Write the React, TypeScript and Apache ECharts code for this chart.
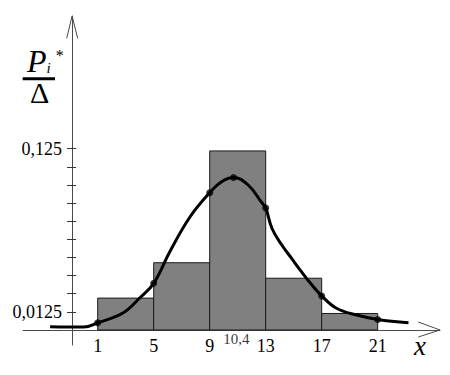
import React, { useEffect, useRef } from "react";
import * as echarts from "echarts";

// Histogram bins (interval edges) and heights P_i*/Δ
const binEdges = [1, 5, 9, 13, 17, 21];
const binHeights = [0.022, 0.0464, 0.1235, 0.0357, 0.0114];

// Smooth density curve
const curveX = [-2.4, 0, 1, 2.8, 4, 5, 6.15, 7.6, 9, 9.85, 10.7, 11.75, 12.7, 13, 13.45, 14.15, 14.85, 15.55, 16.3, 17, 18.05, 19.5, 21, 23.2];
const curveY = [0.0023, 0.0021, 0.005, 0.0117, 0.0221, 0.0322, 0.054, 0.0781, 0.0947, 0.1023, 0.1052, 0.1, 0.0881, 0.0842, 0.07, 0.0586, 0.0494, 0.0402, 0.031, 0.0235, 0.015, 0.0103, 0.0072, 0.005];

// Marked points on the curve
const dotX = [1, 5, 9, 10.7, 13, 17, 21];
const dotY = [0.005, 0.0322, 0.0947, 0.1052, 0.0842, 0.0235, 0.0072];

// Axis ticks / labels
const xTickLabels = [1, 5, 9, 13, 17, 21];
const yTicks = [0.0125, 0.025, 0.0375, 0.05, 0.0625, 0.075, 0.0875, 0.1, 0.1125, 0.125];
const yTickLabels = [0.0125, 0.125];
const meanValue = 10.4;
const meanLabel = "10,4";

const X_MIN = -4.336;
const X_MAX = 25.45;
const Y_MIN = -0.010345;
const Y_MAX = 0.21655;
const Y_AXIS_AT = -0.83;

const SERIF = "'Liberation Serif', 'Times New Roman', serif";

export default function App() {
  const ref = useRef<HTMLDivElement>(null);

  useEffect(() => {
    if (!ref.current) return;
    const chart = echarts.init(ref.current, undefined, { renderer: "svg" });
    const axisColor = "#4a4a4a";

    const option: any = {
      animation: false,
      backgroundColor: "#ffffff",
      grid: { left: 23, right: 10, top: 16, bottom: 30, containLabel: false, outerBoundsMode: "none" },
      xAxis: [
        {
          type: "value",
          min: X_MIN,
          max: X_MAX,
          axisLine: { show: true, onZero: true, lineStyle: { color: axisColor, width: 1 } },
          axisTick: { show: false },
          splitLine: { show: false },
          axisLabel: {
            customValues: xTickLabels,
            formatter: (v: number) => String(v),
            margin: -8,
            fontFamily: SERIF,
            fontSize: 18,
            color: "#000",
          },
        },
        {
          type: "value",
          show: false,
          min: X_MIN - Y_AXIS_AT,
          max: X_MAX - Y_AXIS_AT,
        },
      ],
      yAxis: [
        {
          type: "value",
          min: Y_MIN,
          max: Y_MAX,
          position: "left",
          axisLine: { show: true, onZero: true, onZeroAxisIndex: 1, lineStyle: { color: axisColor, width: 1 } },
          axisTick: { show: true, inside: false, length: 5, customValues: yTicks, lineStyle: { color: "#333", width: 1 } },
          axisLabel: {
            customValues: yTickLabels,
            formatter: (v: number) => String(v).replace(".", ","),
            margin: -39,
            fontFamily: SERIF,
            fontSize: 18,
            color: "#000",
          },
          splitLine: { show: false },
        },
        {
          type: "value",
          min: Y_MIN,
          max: Y_MAX,
          position: "left",
          axisLine: { show: false, onZero: true, onZeroAxisIndex: 1 },
          axisTick: { show: true, inside: true, length: 4, customValues: yTicks, lineStyle: { color: "#333", width: 1 } },
          axisLabel: { show: false },
          splitLine: { show: false },
        },
      ],
      series: [
        {
          type: "custom",
          xAxisIndex: 0,
          yAxisIndex: 0,
          encode: { x: [0, 1], y: 2 },
          data: binHeights.map((h, i) => [binEdges[i], binEdges[i + 1], h]),
          renderItem: (params: any, api: any) => {
            const p0 = api.coord([api.value(0), api.value(2)]);
            const p1 = api.coord([api.value(1), 0]);
            return {
              type: "rect",
              shape: { x: p0[0], y: p0[1], width: p1[0] - p0[0], height: p1[1] - p0[1] },
              style: { fill: "#808080", stroke: "#1a1a1a", lineWidth: 1 },
            };
          },
          z: 1,
        },
        {
          type: "line",
          xAxisIndex: 0,
          yAxisIndex: 0,
          data: curveX.map((x, i) => [x, curveY[i]]),
          smooth: 0.4,
          showSymbol: false,
          lineStyle: { color: "#000", width: 3 },
          z: 3,
          silent: true,
        },
        {
          type: "scatter",
          xAxisIndex: 0,
          yAxisIndex: 0,
          data: dotX.map((x, i) => [x, dotY[i]]),
          symbolSize: 7,
          itemStyle: { color: "#000" },
          z: 4,
          silent: true,
        },
        {
          type: "scatter",
          xAxisIndex: 0,
          yAxisIndex: 0,
          data: [[meanValue, 0]],
          symbolSize: 1,
          itemStyle: { color: "rgba(0,0,0,0)" },
          label: {
            show: true,
            position: "inside",
            offset: [7, 9],
            formatter: meanLabel,
            fontFamily: SERIF,
            fontSize: 15,
            color: "#000",
          },
          z: 5,
          silent: true,
        },
      ],
      graphic: [
        // y-axis arrow
        {
          type: "polyline",
          shape: { points: [[66.7, 38.3], [72.1, 16], [77.7, 38.3]] },
          style: { stroke: axisColor, lineWidth: 1, fill: null },
          z: 10,
        },
        // x-axis arrow
        {
          type: "polyline",
          shape: { points: [[418.3, 322], [440, 330], [418.3, 337]] },
          style: { stroke: axisColor, lineWidth: 1, fill: null },
          z: 10,
        },
        // y-axis title P_i* / Δ
        {
          type: "text",
          x: 27,
          y: 61,
          style: {
            text: "{p|P}{i|i}{s|*}",
            verticalAlign: "middle",
            align: "left",
            rich: {
              p: { fontFamily: SERIF, fontStyle: "italic", fontSize: 32, lineHeight: 28, fill: "#000", verticalAlign: "middle" },
              i: { fontFamily: SERIF, fontStyle: "italic", fontSize: 15, lineHeight: 10, fill: "#000", verticalAlign: "bottom" },
              s: { fontFamily: SERIF, fontSize: 16, lineHeight: 10, fill: "#000", verticalAlign: "top", padding: [0, 0, 0, 5] },
            },
          },
          z: 10,
        },
        {
          type: "line",
          shape: { x1: 22.7, y1: 78.7, x2: 55, y2: 78.7 },
          style: { stroke: "#000", lineWidth: 3 },
          z: 10,
        },
        {
          type: "text",
          x: 39.7,
          y: 92,
          style: { text: "Δ", fontFamily: SERIF, fontSize: 30, lineHeight: 24, fill: "#000", verticalAlign: "middle", align: "center" },
          z: 10,
        },
        // x-axis name
        {
          type: "text",
          x: 420,
          y: 346,
          style: { text: "x", fontFamily: SERIF, fontStyle: "italic", fontSize: 27, fill: "#000", verticalAlign: "middle", align: "center" },
          z: 10,
        },
      ],
    };

    chart.setOption(option);
    return () => chart.dispose();
  }, []);

  return (
    <div
      ref={ref}
      style={{ position: "fixed", left: 0, top: 0, width: 450, height: 375, background: "#fff" }}
    />
  );
}
